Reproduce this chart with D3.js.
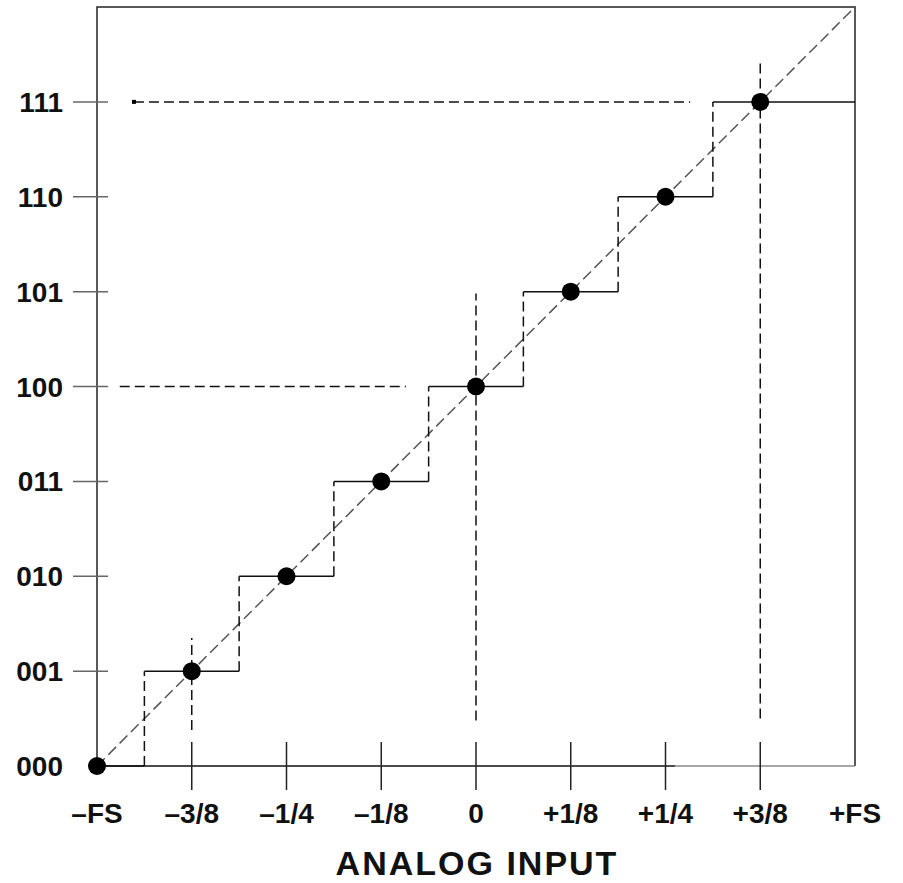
<!DOCTYPE html>
<html>
<head>
<meta charset="utf-8">
<script src="https://cdn.jsdelivr.net/npm/d3@7"></script>
<style>
  body { margin: 0; background: #fff; }
  text { font-family: "Liberation Sans", Arial, sans-serif; font-weight: bold; fill: #111; }
</style>
</head>
<body>
<svg id="chart" width="903" height="883"></svg>
<script>
// input in eighths of the span, -4 = -FS, +4 = +FS
let inputTicks = [-4, -3, -2, -1, 0, 1, 2, 3, 4];
let inputLabels = ["\u2013FS", "\u20133/8", "\u20131/4", "\u20131/8", "0", "+1/8", "+1/4", "+3/8", "+FS"];
let codeLabels = ["000", "001", "010", "011", "100", "101", "110", "111"];
let codeInputs = [-4, -3, -2, -1, 0, 1, 2, 3];      // code centre points (dots)
let transitions = [-3.5, -2.5, -1.5, -0.5, 0.5, 1.5, 2.5]; // code edges
// dashed guide lines: [input, codeFrom, codeTo]
let vGuides = [[-3, 0.38, 1.35], [0, 0.48, 4.98], [3, 0.5, 7.44]];
// [code, inputFrom, inputTo]
let hGuides = [[4, -3.76, -0.74], [7, -3.61, 2.26]];

let margin = {left: 97, top: 7, right: 48, bottom: 117};
let svg = d3.select("#chart");
let w = 903 - margin.left - margin.right,
    h = 883 - margin.top - margin.bottom;

let x = d3.scaleLinear().domain([-4, 4]).range([margin.left, margin.left + w]);
let y = d3.scaleLinear().domain([0, 8]).range([margin.top + h, margin.top]);

let g = svg.append("g");

// frame
g.append("path")
  .attr("d", `M${x(-4)},${y(0)}V${y(8)}H${x(4)}V${y(0)}`)
  .attr("fill", "none").attr("stroke", "#222").attr("stroke-width", 1.5);
g.append("line")
  .attr("x1", x(-4)).attr("x2", x(2.1)).attr("y1", y(0)).attr("y2", y(0))
  .attr("stroke", "#111").attr("stroke-width", 1.5);
g.append("line")
  .attr("x1", x(2.1)).attr("x2", x(4)).attr("y1", y(0)).attr("y2", y(0))
  .attr("stroke", "#888").attr("stroke-width", 1.5);

// y ticks (codes 001..111)
g.selectAll(".ytick").data(d3.range(1, 8)).enter().append("line")
  .attr("class", "ytick")
  .attr("x1", x(-4) - 24).attr("x2", x(-4) + 11)
  .attr("y1", d => y(d)).attr("y2", d => y(d))
  .attr("stroke", "#666").attr("stroke-width", 1.5);

g.selectAll(".ylab").data(codeLabels).enter().append("text")
  .attr("class", "ylab")
  .attr("x", 63)
  .attr("y", (d, i) => y(i))
  .attr("dy", "0.36em")
  .attr("text-anchor", "end")
  .style("font-size", "28px")
  .text(d => d);

// x ticks
g.selectAll(".xtick").data(inputTicks.filter(d => Math.abs(d) < 4)).enter().append("line")
  .attr("class", "xtick")
  .attr("x1", d => x(d)).attr("x2", d => x(d))
  .attr("y1", y(0) - 24).attr("y2", y(0) + 24)
  .attr("stroke", "#222").attr("stroke-width", 1.5);

g.selectAll(".xlab").data(inputTicks).enter().append("text")
  .attr("class", "xlab")
  .attr("x", d => x(d))
  .attr("y", 823)
  .attr("text-anchor", "middle")
  .style("font-size", "28px")
  .text((d, i) => inputLabels[i]);

svg.append("text")
  .attr("x", x(0) + 1)
  .attr("y", 875)
  .attr("text-anchor", "middle")
  .style("font-size", "34px")
  .style("letter-spacing", "2px")
  .text("ANALOG INPUT");

// guide lines
g.selectAll(".vguide").data(vGuides).enter().append("line")
  .attr("x1", d => x(d[0])).attr("x2", d => x(d[0]))
  .attr("y1", d => y(d[1])).attr("y2", d => y(d[2]))
  .attr("stroke", "#111").attr("stroke-width", 1.5)
  .attr("stroke-dasharray", "10,5");
g.selectAll(".hguide").data(hGuides).enter().append("line")
  .attr("x1", d => x(d[1])).attr("x2", d => x(d[2]))
  .attr("y1", d => y(d[0])).attr("y2", d => y(d[0]))
  .attr("stroke", "#111").attr("stroke-width", 1.5)
  .attr("stroke-dasharray", "10,5");
g.append("rect")
  .attr("x", x(hGuides[1][1]) - 2).attr("y", y(7) - 2)
  .attr("width", 4).attr("height", 4).attr("fill", "#000");

// ideal line
g.append("line")
  .attr("x1", x(-4)).attr("y1", y(0)).attr("x2", x(4)).attr("y2", y(8))
  .attr("stroke", "#555").attr("stroke-width", 1.5)
  .attr("stroke-dasharray", "11,5");

// staircase: flat treads solid, risers dashed
let treads = codeInputs.map((c, i) => ({
  code: i,
  x0: i === 0 ? -4 : transitions[i - 1],
  x1: i === codeInputs.length - 1 ? 4 : transitions[i]
}));
g.selectAll(".tread").data(treads).enter().append("line")
  .attr("class", "tread")
  .attr("x1", d => x(d.x0)).attr("x2", d => x(d.x1))
  .attr("y1", d => y(d.code)).attr("y2", d => y(d.code))
  .attr("stroke", "#111").attr("stroke-width", 1.5);
g.selectAll(".riser").data(transitions).enter().append("line")
  .attr("class", "riser")
  .attr("x1", d => x(d)).attr("x2", d => x(d))
  .attr("y1", (d, i) => y(i)).attr("y2", (d, i) => y(i + 1))
  .attr("stroke", "#111").attr("stroke-width", 1.5)
  .attr("stroke-dasharray", "10,5");

// code centre dots
g.selectAll(".dot").data(codeInputs).enter().append("circle")
  .attr("cx", d => x(d))
  .attr("cy", (d, i) => y(i))
  .attr("r", 9)
  .attr("fill", "#000");
</script>
</body>
</html>
